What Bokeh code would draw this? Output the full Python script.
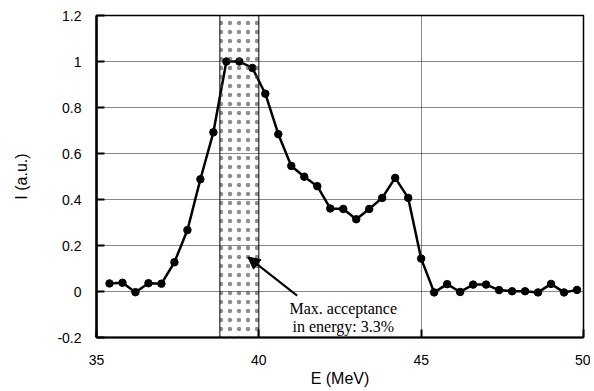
from bokeh.plotting import figure
from bokeh.models import (Range1d, FixedTicker, PrintfTickFormatter, BoxAnnotation,
                          Label, Arrow, NormalHead, ColumnDataSource)
from bokeh.embed import file_html
from bokeh.resources import INLINE

# data
energy = [35.4, 35.8, 36.2, 36.6, 37.0, 37.4, 37.8, 38.2, 38.6, 39.0, 39.4, 39.8,
          40.2, 40.6, 41.0, 41.4, 41.8, 42.2, 42.6, 43.0, 43.4, 43.8, 44.2, 44.6,
          45.0, 45.4, 45.8, 46.2, 46.6, 47.0, 47.4, 47.8, 48.2, 48.6, 49.0, 49.4, 49.8]
intensity = [0.035, 0.038, -0.003, 0.036, 0.034, 0.127, 0.267, 0.488, 0.692, 1.0, 1.0, 0.972,
             0.860, 0.684, 0.546, 0.499, 0.458, 0.361, 0.359, 0.314, 0.359, 0.407, 0.494, 0.407,
             0.143, -0.004, 0.032, -0.002, 0.030, 0.030, 0.006, 0.001, 0.001, -0.004, 0.033, -0.004, 0.007]
band_lo = 38.8
band_hi = 40.0
x_ticks = [35, 40, 45, 50]
y_ticks = [-0.2, 0, 0.2, 0.4, 0.6, 0.8, 1.0, 1.2]
y_grid = [0, 0.2, 0.4, 0.6, 0.8, 1.0]
x_grid = [45]
note_lines = ["Max. acceptance", "in energy: 3.3%"]

p = figure(width=590, height=390, output_backend="svg", toolbar_location=None,
           x_range=Range1d(35, 50), y_range=Range1d(-0.2, 1.2),
           min_border_left=96, min_border_right=7, min_border_top=15, min_border_bottom=53)
p.background_fill_color = "white"
p.border_fill_color = "white"
p.outline_line_color = "black"
p.outline_line_width = 1.5

# band
band = BoxAnnotation(left=band_lo, right=band_hi, fill_alpha=0, fill_color=None,
                     line_color="black", line_width=1, line_alpha=1,
                     hatch_pattern="dot", hatch_scale=9, hatch_color="#444444",
                     hatch_weight=0.5, hatch_alpha=0.6)
p.add_layout(band)

# grids
p.xgrid.ticker = FixedTicker(ticks=x_grid)
p.ygrid.ticker = FixedTicker(ticks=y_grid)
for g in (p.xgrid, p.ygrid):
    g.grid_line_color = "#111111"
    g.grid_line_dash = "1 1"
    g.grid_line_width = 1

src = ColumnDataSource(dict(x=energy, y=intensity))
p.line("x", "y", source=src, line_color="black", line_width=2.5)
p.scatter("x", "y", source=src, size=7.5, fill_color="black", line_color="black")

# axes
p.xaxis.ticker = FixedTicker(ticks=x_ticks)
p.yaxis.ticker = FixedTicker(ticks=y_ticks)
p.yaxis.formatter = PrintfTickFormatter(format="%g")
p.xaxis.formatter = PrintfTickFormatter(format="%g")
for ax in (p.xaxis, p.yaxis):
    ax.major_tick_in = 8
    ax.major_tick_out = 0
    ax.minor_tick_line_color = None
    ax.major_tick_line_color = "black"
    ax.major_tick_line_width = 2
    ax.axis_line_color = "black"
    ax.major_label_text_font = "Liberation Sans"
    ax.major_label_text_font_size = "14px"
    ax.major_label_text_color = "black"
    ax.axis_label_text_font = "Liberation Sans"
    ax.axis_label_text_font_size = "16px"
    ax.axis_label_text_font_style = "normal"
    ax.axis_label_text_color = "black"
p.yaxis.axis_line_width = 2.5
p.xaxis.axis_line_width = 2
p.xaxis.major_label_standoff = 17
p.yaxis.major_label_standoff = 15
p.xaxis.axis_label = "E (MeV)"
p.yaxis.axis_label = "I (a.u.)"
p.xaxis.axis_label_standoff = 2
p.yaxis.axis_label_standoff = 24

# annotation
for i, t in enumerate(note_lines):
    p.add_layout(Label(x=42.6, y=-0.075 - 0.078 * i, text=t, text_align="center",
                       text_baseline="middle", text_font="Liberation Serif",
                       text_font_size="16px", text_color="black"))
p.add_layout(Arrow(end=NormalHead(size=12, fill_color="black", line_color="black"),
                   x_start=41.18, y_start=-0.018, x_end=39.66, y_end=0.15,
                   line_width=2, line_color="black"))

open("out.html", "w").write(file_html(p, INLINE))
